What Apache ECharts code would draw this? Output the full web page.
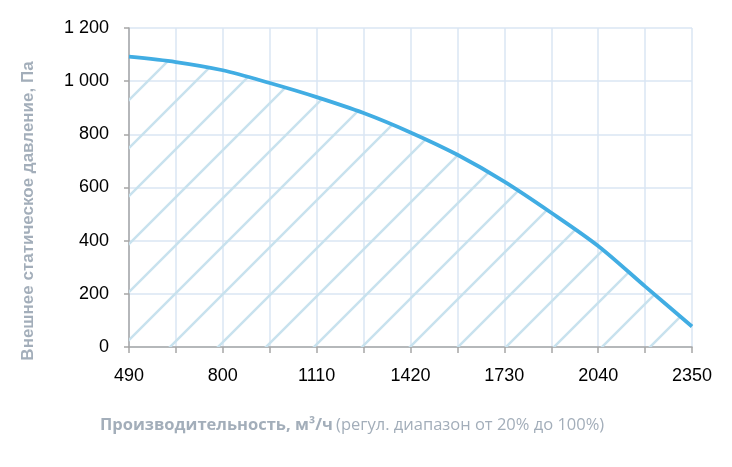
<!DOCTYPE html>
<html>
<head>
<meta charset="utf-8">
<script src="https://cdn.jsdelivr.net/npm/echarts@6/dist/echarts.min.js"></script>
<style>
  html, body { margin: 0; padding: 0; background: #fff; }
  #main { width: 732px; height: 467px; }
</style>
</head>
<body>
<div id="main"></div>
<script>
// расход, м3/ч (шаг 155)
var flow = ['490', '645', '800', '955', '1110', '1265', '1420', '1575', '1730', '1885', '2040', '2195', '2350'];
// внешнее статическое давление, Па
var pressure = [1092, 1072, 1041, 993, 940, 880, 807, 723, 622, 505, 380, 228, 77];
var yTicks = [0, 1200, 200];

// штриховка под кривой
function hatch() {
  var s = 48;
  var c = document.createElement('canvas');
  c.width = s;
  c.height = s;
  var ctx = c.getContext('2d');
  ctx.strokeStyle = '#c8e2ee';
  ctx.lineWidth = 2.5;
  ctx.beginPath();
  ctx.moveTo(-2, 39); ctx.lineTo(39, -2);
  ctx.moveTo(35, 50); ctx.lineTo(50, 35);
  ctx.stroke();
  return c;
}

var myChart = echarts.init(document.getElementById('main'));
var option = {
  animation: false,
  grid: { left: 129, right: 40, top: 28, bottom: 120 },
  xAxis: {
    type: 'category',
    data: flow,
    boundaryGap: false,
    axisLine: { lineStyle: { color: '#a6a6a6', width: 1.5 } },
    axisTick: { show: true, interval: 0, length: 6, lineStyle: { color: '#a6a6a6', width: 1.5 } },
    axisLabel: { interval: 1, color: '#000', fontSize: 18, fontFamily: 'Liberation Sans', margin: 20 },
    splitLine: { show: true, interval: 0, lineStyle: { color: '#dae6f3', width: 1.5 } }
  },
  yAxis: {
    type: 'value',
    min: yTicks[0],
    max: yTicks[1],
    interval: yTicks[2],
    axisLine: { show: true, lineStyle: { color: '#a6a6a6', width: 1.5 } },
    axisTick: { show: true, length: 5, lineStyle: { color: '#a6a6a6', width: 1.5 } },
    axisLabel: {
      color: '#000', fontSize: 18, fontFamily: 'Liberation Sans', margin: 20,
      formatter: function (v) { return v >= 1000 ? Math.floor(v / 1000) + ' ' + String(v % 1000).padStart(3, '0') : v; }
    },
    splitLine: { lineStyle: { color: '#dae6f3', width: 1.5 } }
  },
  graphic: [
    {
      type: 'text',
      x: 28, y: 211,
      rotation: Math.PI / 2,
      style: {
        text: 'Внешнее статическое давление, Па',
        fill: '#a3aeba',
        font: 'bold 17px "Liberation Sans"',
        align: 'center',
        verticalAlign: 'middle'
      }
    },
    {
      type: 'text',
      x: 100, y: 425,
      style: {
        text: '{b|Производительность, м³/ч} {n|(регул. диапазон от 20% до 100%)}',
        verticalAlign: 'middle',
        rich: {
          b: { fill: '#a3aeba', font: 'bold 16.5px "Open Sans"' },
          n: { fill: '#a3aeba', font: '16.5px "Open Sans"' }
        }
      }
    }
  ],
  series: [
    {
      type: 'line',
      data: pressure,
      smooth: 0.3,
      symbol: 'none',
      lineStyle: { color: '#41ade3', width: 3.8 },
      areaStyle: { color: { image: hatch(), repeat: 'repeat' }, opacity: 1 }
    }
  ]
};
myChart.setOption(option);
</script>
</body>
</html>
